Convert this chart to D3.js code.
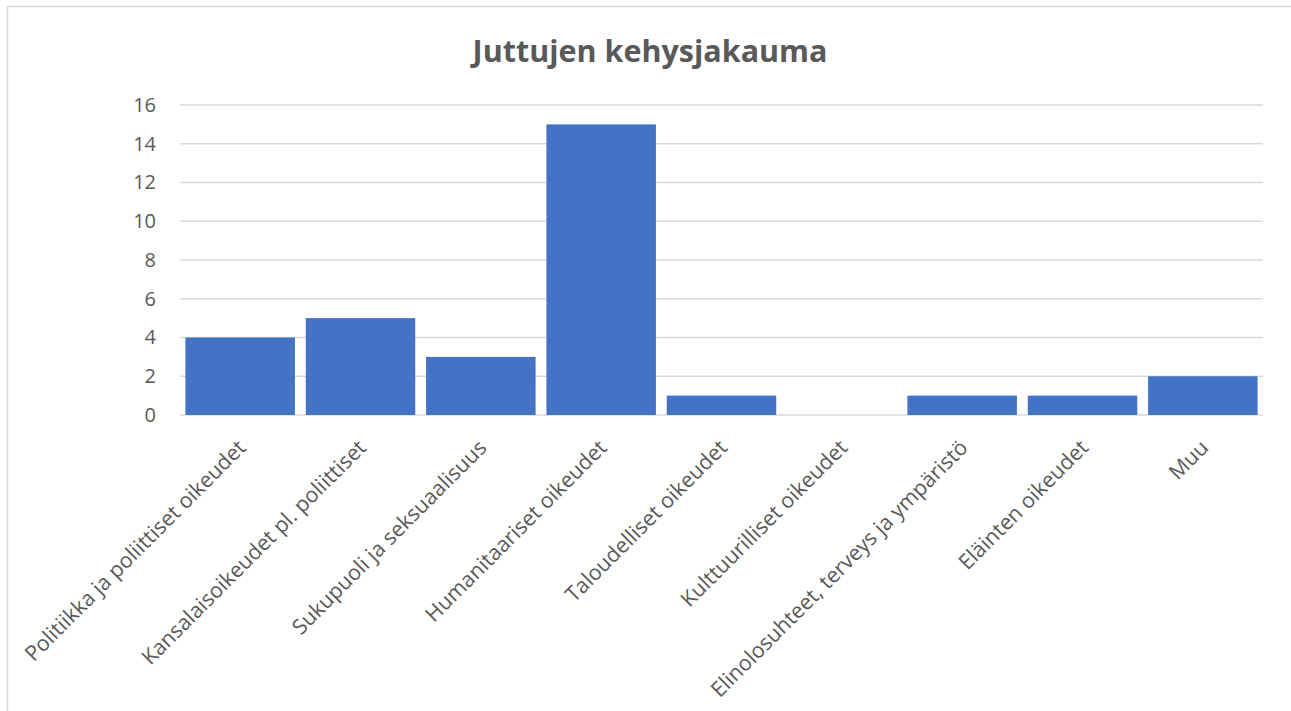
<!DOCTYPE html>
<html>
  <head>
    <meta charset="utf-8">
    <title>Juttujen kehysjakauma</title>
    <script src="https://cdn.jsdelivr.net/npm/d3@7"></script>
    <style>
      body { margin: 0; background: #fff; }
      text { font-family: "Open Sans", sans-serif; fill: #595959; }
    </style>
  </head>
  <body>
    <svg width="1291" height="711" id="mainsvg"></svg>
    <script>
      const categories = [
        'Politiikka ja poliittiset oikeudet',
        'Kansalaisoikeudet pl. poliittiset',
        'Sukupuoli ja seksuaalisuus',
        'Humanitaariset oikeudet',
        'Taloudelliset oikeudet',
        'Kulttuurilliset oikeudet',
        'Elinolosuhteet, terveys ja ympäristö',
        'Eläinten oikeudet',
        'Muu'
      ];
      const values = [4, 5, 3, 15, 1, 0, 1, 1, 2];
      const yTicks = [0, 2, 4, 6, 8, 10, 12, 14, 16];

      const svg = d3.select('#mainsvg');
      const margin = {top: 105, right: 28, bottom: 296, left: 180};
      const width = +svg.attr('width');
      const height = +svg.attr('height');
      const innerWidth = width - margin.left - margin.right;
      const innerHeight = height - margin.top - margin.bottom;

      // chart frame
      svg.append('rect')
        .attr('x', 7.5).attr('y', 6.5)
        .attr('width', 1290).attr('height', 720)
        .attr('fill', 'none').attr('stroke', '#d9d9d9').attr('stroke-width', 1.5);

      svg.append('text')
        .attr('x', 650).attr('y', 62)
        .attr('text-anchor', 'middle')
        .attr('font-size', 30.5).attr('font-weight', 'bold')
        .text('Juttujen kehysjakauma');

      const g = svg.append('g').attr('transform', `translate(${margin.left}, ${margin.top})`);

      const x = d3.scaleBand().domain(categories).range([0, innerWidth]).paddingInner(0.09).paddingOuter(0.045);
      const y = d3.scaleLinear().domain([0, 16]).range([innerHeight, 0]);

      // gridlines
      g.selectAll('line.grid').data(yTicks).join('line')
        .attr('class', 'grid')
        .attr('x1', 0).attr('x2', innerWidth)
        .attr('y1', d => y(d)).attr('y2', d => y(d))
        .attr('stroke', '#d9d9d9').attr('stroke-width', 1.5);

      // y axis labels
      const yAxis = g.append('g')
        .call(d3.axisLeft(y).tickValues(yTicks).tickSize(0).tickPadding(24));
      yAxis.select('.domain').remove();
      yAxis.selectAll('text')
        .attr('font-size', 20).attr('fill', '#595959')
        .style('font-family', '"Open Sans", sans-serif');

      // bars
      g.selectAll('rect.bar').data(values).join('rect')
        .attr('class', 'bar')
        .attr('x', (d, i) => x(categories[i]))
        .attr('y', d => y(d))
        .attr('width', x.bandwidth())
        .attr('height', d => innerHeight - y(d))
        .attr('fill', '#4472c4');

      // category labels, rotated
      const xAxis = g.append('g')
        .attr('transform', `translate(0, ${innerHeight})`)
        .call(d3.axisBottom(x).tickSize(0).tickPadding(0));
      xAxis.select('.domain').remove();
      xAxis.selectAll('text')
        .attr('font-size', 21.3).attr('fill', '#595959')
        .style('font-family', '"Open Sans", sans-serif')
        .attr('text-anchor', 'end')
        .attr('dy', null).attr('y', 0)
        .attr('transform', 'translate(7, 34) rotate(-45)');
    </script>
  </body>
</html>
